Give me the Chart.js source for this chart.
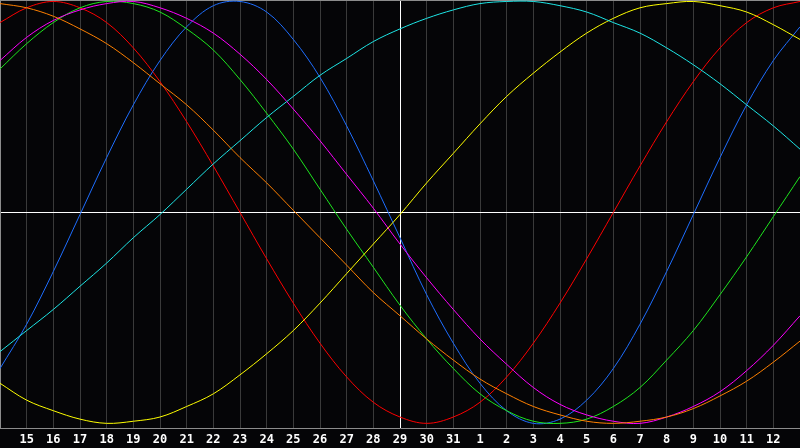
<!DOCTYPE html>
<html>
<head>
<meta charset="utf-8">
<script src="https://cdn.jsdelivr.net/npm/chart.js@4.4.1/dist/chart.umd.min.js"></script>
<style>
  html, body { margin: 0; padding: 0; background: #050507; }
  #wrap { width: 800px; height: 448px; }
</style>
</head>
<body>
<div id="wrap"><canvas id="chart" width="800" height="448"></canvas></div>
<script>
// days shown on the x axis (first and last are the edges, no label)
const days = [14, 15, 16, 17, 18, 19, 20, 21, 22, 23, 24, 25, 26, 27, 28, 29, 30, 31,
              1, 2, 3, 4, 5, 6, 7, 8, 9, 10, 11, 12, 13];

const redValues = [0.90, 0.97, 1.00, 0.97, 0.90, 0.78, 0.62, 0.43, 0.22, 0.00, -0.22,
  -0.43, -0.62, -0.78, -0.90, -0.97, -1.00, -0.97, -0.90, -0.78, -0.62, -0.43, -0.22,
  0.00, 0.22, 0.43, 0.62, 0.78, 0.90, 0.97, 1.00];
const blueValues = [-0.74, -0.53, -0.28, -0.01, 0.26, 0.51, 0.72, 0.88, 0.98, 1.00, 0.95,
  0.82, 0.64, 0.41, 0.15, -0.12, -0.39, -0.62, -0.81, -0.94, -1.00, -0.98, -0.89,
  -0.74, -0.53, -0.28, -0.01, 0.26, 0.51, 0.72, 0.88];
const greenValues = [0.68, 0.80, 0.90, 0.97, 1.00, 0.99, 0.95, 0.87, 0.77, 0.63, 0.47,
  0.30, 0.11, -0.08, -0.26, -0.44, -0.60, -0.74, -0.86, -0.94, -0.99, -1.00, -0.98,
  -0.92, -0.83, -0.70, -0.56, -0.39, -0.21, -0.02, 0.17];
const magentaValues = [0.72, 0.83, 0.91, 0.96, 0.99, 1.00, 0.97, 0.92, 0.85, 0.75, 0.63,
  0.49, 0.34, 0.18, 0.02, -0.15, -0.31, -0.46, -0.60, -0.72, -0.83, -0.91, -0.96,
  -0.99, -1.00, -0.97, -0.92, -0.85, -0.75, -0.63, -0.49];
const orangeValues = [0.99, 0.97, 0.93, 0.87, 0.80, 0.71, 0.61, 0.51, 0.39, 0.26, 0.14,
  0.01, -0.12, -0.25, -0.38, -0.49, -0.60, -0.70, -0.79, -0.86, -0.92, -0.96, -0.99,
  -1.00, -0.99, -0.97, -0.93, -0.87, -0.80, -0.71, -0.61];
const yellowValues = [-0.81, -0.89, -0.94, -0.98, -1.00, -0.99, -0.97, -0.92, -0.86, -0.77,
  -0.67, -0.56, -0.43, -0.29, -0.15, -0.01, 0.14, 0.28, 0.42, 0.55, 0.66, 0.76, 0.85,
  0.92, 0.97, 0.99, 1.00, 0.98, 0.95, 0.89, 0.82];
const cyanValues = [-0.66, -0.56, -0.46, -0.35, -0.24, -0.12, -0.01, 0.11, 0.23, 0.34, 0.45,
  0.55, 0.65, 0.73, 0.81, 0.87, 0.92, 0.96, 0.99, 1.00, 1.00, 0.98, 0.95, 0.90, 0.85,
  0.78, 0.70, 0.61, 0.51, 0.41, 0.30];

const centerIndex = 15;

function line(data, color) {
  return {
    data: data,
    borderColor: color,
    borderWidth: 1,
    pointRadius: 0,
    pointHoverRadius: 0,
    tension: 0.35,
    fill: false
  };
}

// gray frame along the top and left edges of the plot
const frame = {
  id: 'frame',
  beforeDatasetsDraw(chart) {
    const { ctx, chartArea } = chart;
    ctx.save();
    ctx.strokeStyle = '#8c8c8c';
    ctx.lineWidth = 1;
    ctx.beginPath();
    ctx.moveTo(chartArea.left, 0.5);
    ctx.lineTo(chartArea.right, 0.5);
    ctx.moveTo(0.5, 0);
    ctx.lineTo(0.5, chartArea.bottom);
    ctx.stroke();
    ctx.restore();
  }
};

new Chart(document.getElementById('chart'), {
  type: 'line',
  data: {
    labels: days,
    datasets: [
      line(cyanValues, '#1ee6e6'),
      line(yellowValues, '#ffff00'),
      line(orangeValues, '#ff8000'),
      line(magentaValues, '#ff00ff'),
      line(greenValues, '#1ee61e'),
      line(blueValues, '#1e6eff'),
      line(redValues, '#ff0000')
    ]
  },
  options: {
    responsive: false,
    animation: false,
    layout: { autoPadding: false, padding: 0 },
    plugins: {
      legend: { display: false },
      tooltip: { enabled: false }
    },
    scales: {
      x: {
        offset: false,
        afterFit: scale => {
          scale.paddingLeft = 0;
          scale.paddingRight = 0;
          scale.height = 20;
        },
        grid: {
          drawTicks: false,
          color: ctx => {
            if (ctx.index === centerIndex) return '#ffffff';
            if (ctx.index === 0 || ctx.index === days.length - 1) return 'rgba(0,0,0,0)';
            return '#3a3a3a';
          }
        },
        border: { display: true, color: '#8c8c8c' },
        ticks: {
          autoSkip: false,
          maxRotation: 0,
          padding: 5,
          color: '#ffffff',
          font: { family: '"DejaVu Sans Mono"', size: 12, weight: 'bold' },
          callback: function (val, index) {
            if (index === 0 || index === days.length - 1) return '';
            return days[index];
          }
        }
      },
      y: {
        min: -1.022,
        max: 1.007,
        afterFit: scale => {
          scale.width = 0;
          scale.paddingTop = 0;
          scale.paddingBottom = 0;
        },
        afterBuildTicks: axis => { axis.ticks = [{ value: 0 }]; },
        grid: { drawTicks: false, color: '#ffffff' },
        border: { display: false },
        ticks: { display: false }
      }
    }
  },
  plugins: [frame]
});
</script>
</body>
</html>
